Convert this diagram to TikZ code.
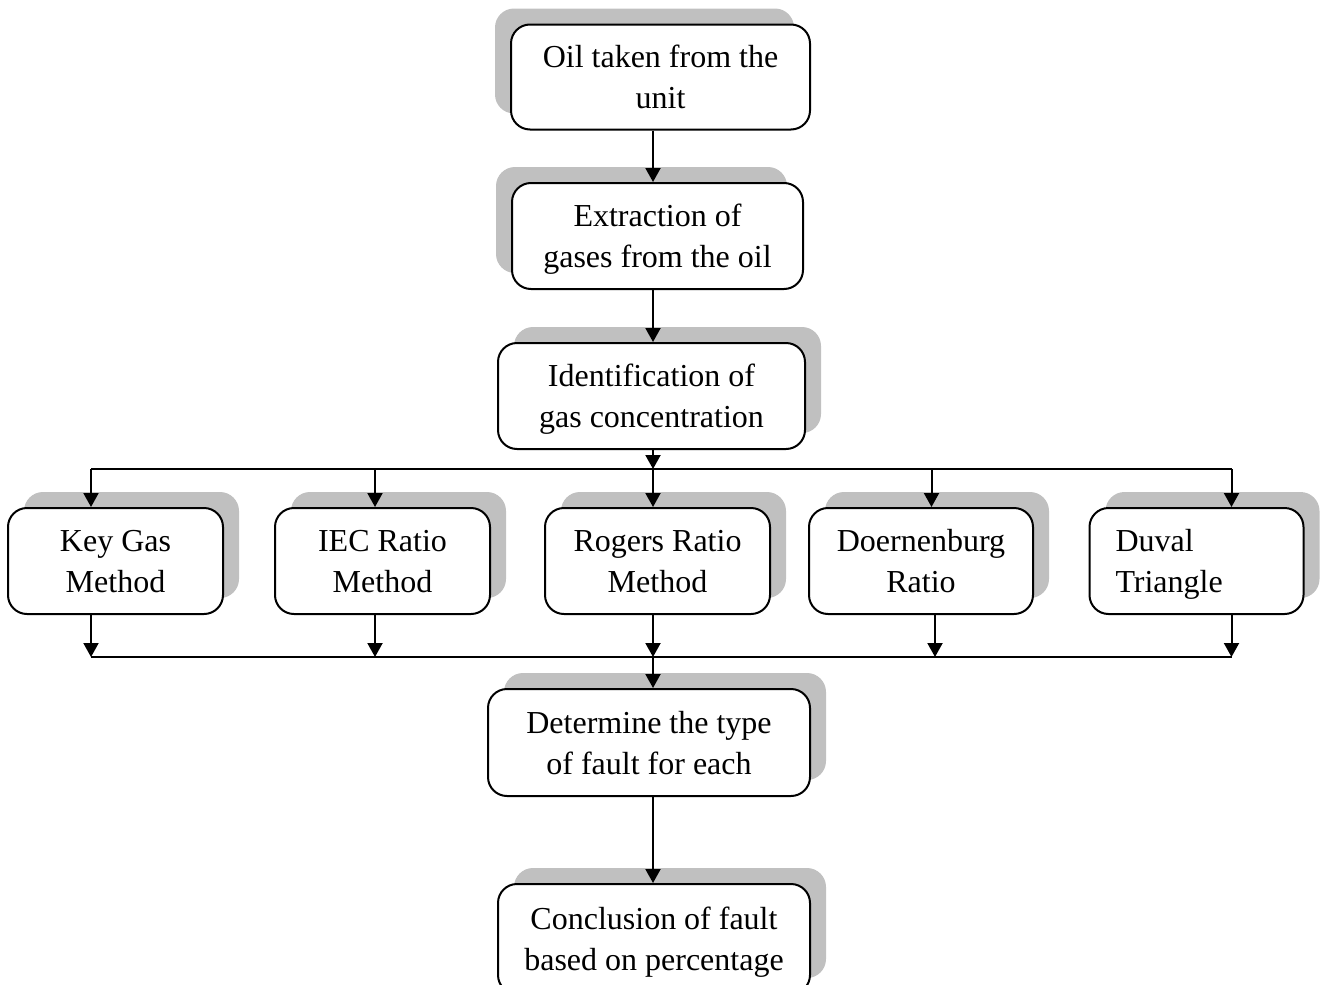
\documentclass[tikz,border=0pt]{standalone}
\usepackage{fontspec}
\setmainfont{Liberation Serif}
\usetikzlibrary{arrows.meta,shadows}
\definecolor{shadowgray}{RGB}{192,192,192}
% last line of a box label: its descenders do not count for centring
\newcommand{\lastln}[1]{\raisebox{0pt}[\height][0pt]{#1}}
\tikzset{
  stepbox/.style={draw, line width=2pt, rounded corners=19pt, fill=white,
    align=center, inner sep=0pt, font=\fontsize{32}{41}\selectfont},
  shadowleft/.style={general shadow={fill=shadowgray, shadow xshift=-16pt, shadow yshift=16pt}},
  shadowright/.style={general shadow={fill=shadowgray, shadow xshift=16pt, shadow yshift=16pt}},
  flow/.style={line width=2pt, -{Triangle[length=14pt,width=15pt]}},
  busline/.style={line width=2pt}
}
\begin{document}
\begin{tikzpicture}[x=1pt,y=-1pt]
  \useasboundingbox (0,0) rectangle (1325,985);
  \clip (0,0) rectangle (1325,985);

  % main column
  \node[stepbox, shadowleft, minimum width=299pt, minimum height=105pt] (oil) at (660.5,77) {Oil taken from the\\\lastln{unit}};
  \node[stepbox, shadowleft, minimum width=291pt, minimum height=106pt] (extr) at (657.5,236) {Extraction of\\\lastln{gases from the oil}};
  \node[stepbox, shadowright, minimum width=307pt, minimum height=106pt] (ident) at (651.5,396) {Identification of\\\lastln{gas concentration}};

  % diagnostic methods
  \node[stepbox, shadowright, minimum width=215pt, minimum height=106pt] (key) at (115.5,561) {Key Gas\\\lastln{Method}};
  \node[stepbox, shadowright, minimum width=215pt, minimum height=106pt] (iec) at (382.5,561) {IEC Ratio\\\lastln{Method}};
  \node[stepbox, shadowright, minimum width=225pt, minimum height=106pt] (rog) at (657.5,561) {Rogers Ratio\\\lastln{Method}};
  \node[stepbox, shadowright, minimum width=224pt, minimum height=106pt] (doe) at (921,561) {Doernenburg\\\lastln{Ratio}};
  \node[stepbox, shadowright, minimum width=214pt, minimum height=106pt] (duv) at (1196.5,561)
    {\makebox[162pt][l]{Duval}\\\makebox[162pt][l]{\lastln{Triangle}}};

  % result
  \node[stepbox, shadowright, minimum width=322pt, minimum height=107pt] (det) at (649,742.5) {Determine the type\\\lastln{of fault for each}};
  \node[stepbox, shadowright, minimum width=312pt, minimum height=110pt] (conc) at (654,939) {Conclusion of fault\\\lastln{based on percentage}};

  % distribution bus
  \coordinate (tk) at (91,469);
  \coordinate (ti) at (375,469);
  \coordinate (tc) at (653,469);
  \coordinate (td) at (931.5,469);
  \coordinate (tv) at (1231.5,469);
  % collection bus
  \coordinate (bk) at (91,657);
  \coordinate (bi) at (375,657);
  \coordinate (bc) at (653,657);
  \coordinate (bd) at (935,657);
  \coordinate (bv) at (1231.5,657);

  \draw[flow] (oil.south -| tc) -- (tc |- extr.north);
  \draw[flow] (extr.south -| tc) -- (tc |- ident.north);
  \draw[flow] (ident.south -| tc) -- (tc);

  \draw[busline] (tk) -- (tv);
  \draw[flow] (tk) -- (tk |- key.north);
  \draw[flow] (ti) -- (ti |- iec.north);
  \draw[flow] (tc) -- (tc |- rog.north);
  \draw[flow] (td) -- (td |- doe.north);
  \draw[flow] (tv) -- (tv |- duv.north);

  \draw[busline] (bk) -- (bv);
  \draw[flow] (key.south -| bk) -- (bk);
  \draw[flow] (iec.south -| bi) -- (bi);
  \draw[flow] (rog.south -| bc) -- (bc);
  \draw[flow] (doe.south -| bd) -- (bd);
  \draw[flow] (duv.south -| bv) -- (bv);

  \draw[flow] (bc) -- (bc |- det.north);
  \draw[flow] (det.south -| bc) -- (bc |- conc.north);
\end{tikzpicture}
\end{document}
